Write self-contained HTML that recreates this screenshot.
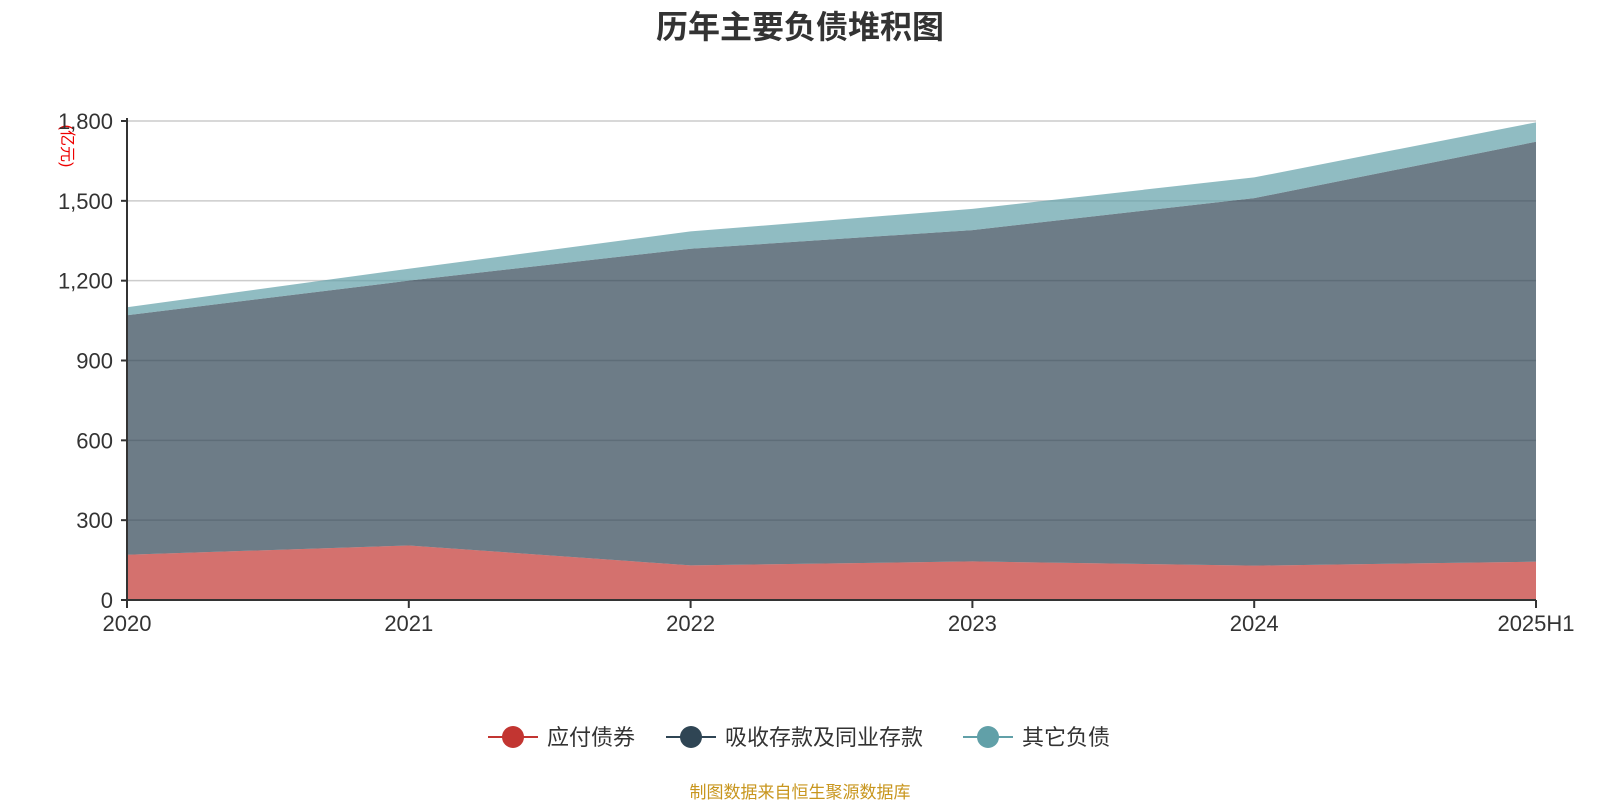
<!DOCTYPE html>
<html><head><meta charset="utf-8"><style>
body{margin:0;background:#fff;width:1600px;height:800px;overflow:hidden;font-family:"Liberation Sans","Noto Sans CJK SC",sans-serif}
</style></head><body>
<svg width="1600" height="800" id="c" font-family="Liberation Sans, Noto Sans CJK SC, sans-serif">
<text x="800" y="38" text-anchor="middle" font-size="32" font-weight="bold" fill="#333">历年主要负债堆积图</text>
<text transform="translate(62,146) rotate(90)" text-anchor="middle" font-size="16" fill="#e00">(亿元)</text>
<g id="grid"></g><g id="areas"></g><g id="axes"></g>
<g>
<g><line x1="488" y1="737" x2="538" y2="737" stroke="#c23531" stroke-width="2"/><circle cx="513" cy="737" r="11" fill="#c23531"/><text x="547" y="745" font-size="22" fill="#333">应付债券</text></g>
<g><line x1="666" y1="737" x2="716" y2="737" stroke="#2f4554" stroke-width="2"/><circle cx="691" cy="737" r="11" fill="#2f4554"/><text x="725" y="745" font-size="22" fill="#333">吸收存款及同业存款</text></g>
<g><line x1="963" y1="737" x2="1013" y2="737" stroke="#61a0a8" stroke-width="2"/><circle cx="988" cy="737" r="11" fill="#61a0a8"/><text x="1022" y="745" font-size="22" fill="#333">其它负债</text></g>
</g>
<text x="800" y="798" text-anchor="middle" font-size="17" fill="#c8961e">制图数据来自恒生聚源数据库</text>
</svg>
<script>
const categories=["2020","2021","2022","2023","2024","2025H1"];
const bonds=[170,205,130,145,129,144];
const deposits=[900,995,1190,1245,1381,1578];
const other=[30,45,65,80,78,73];
const yTicks=[0,300,600,900,1200,1500,1800];
const NS="http://www.w3.org/2000/svg";
const X0=127,X1=1536,Y0=600,Y1=121,YMAX=1800;
const xs=i=>X0+(X1-X0)*i/(categories.length-1);
const ys=v=>Y0-(Y0-Y1)*v/YMAX;
function mk(t,a,p){const e=document.createElementNS(NS,t);for(const k in a)e.setAttribute(k,a[k]);p.appendChild(e);return e;}
const grid=document.getElementById('grid'),areas=document.getElementById('areas'),axes=document.getElementById('axes');
yTicks.forEach(v=>{
 if(v>0){const g=mk('line',{x1:X0,x2:X1,y1:ys(v),y2:ys(v),stroke:'#ccc','stroke-width':1.5},grid);
 
 }
 const t=mk('text',{x:X0-14,y:ys(v)+8,'text-anchor':'end','font-size':22,fill:'#333'},axes);
 t.textContent=v.toLocaleString('en-US');
 
 
 const tk=mk('line',{x1:X0-6,x2:X0,y1:ys(v),y2:ys(v),stroke:'#333','stroke-width':2},axes);
 
 
});
const series=[[bonds,'#c23531','area-bonds'],[deposits,'#2f4554','area-deposits'],[other,'#61a0a8','area-other']];
let base=categories.map(()=>0);
series.forEach(([vals,col,name])=>{
 const top=base.map((b,i)=>b+vals[i]);
 let d='M'+top.map((v,i)=>xs(i)+','+ys(v)).join(' L');
 for(let i=categories.length-1;i>=0;i--)d+=' L'+xs(i)+','+ys(base[i]);
 d+='Z';
 const p=mk('path',{d:d,fill:col,'fill-opacity':0.7},areas);
 
 
 base=top;
});
const ax=mk('line',{x1:X0,x2:X0,y1:Y1-3,y2:Y0,stroke:'#333','stroke-width':2},axes);


const bx=mk('line',{x1:X0,x2:X1,y1:Y0,y2:Y0,stroke:'#333','stroke-width':2},axes);


categories.forEach((c,i)=>{
 const tk=mk('line',{x1:xs(i),x2:xs(i),y1:Y0,y2:Y0+8,stroke:'#333','stroke-width':2},axes);
 
 
 const t=mk('text',{x:xs(i),y:Y0+31,'text-anchor':'middle','font-size':22,fill:'#333'},axes);
 t.textContent=c;
 
 
});
</script>
</body></html>
